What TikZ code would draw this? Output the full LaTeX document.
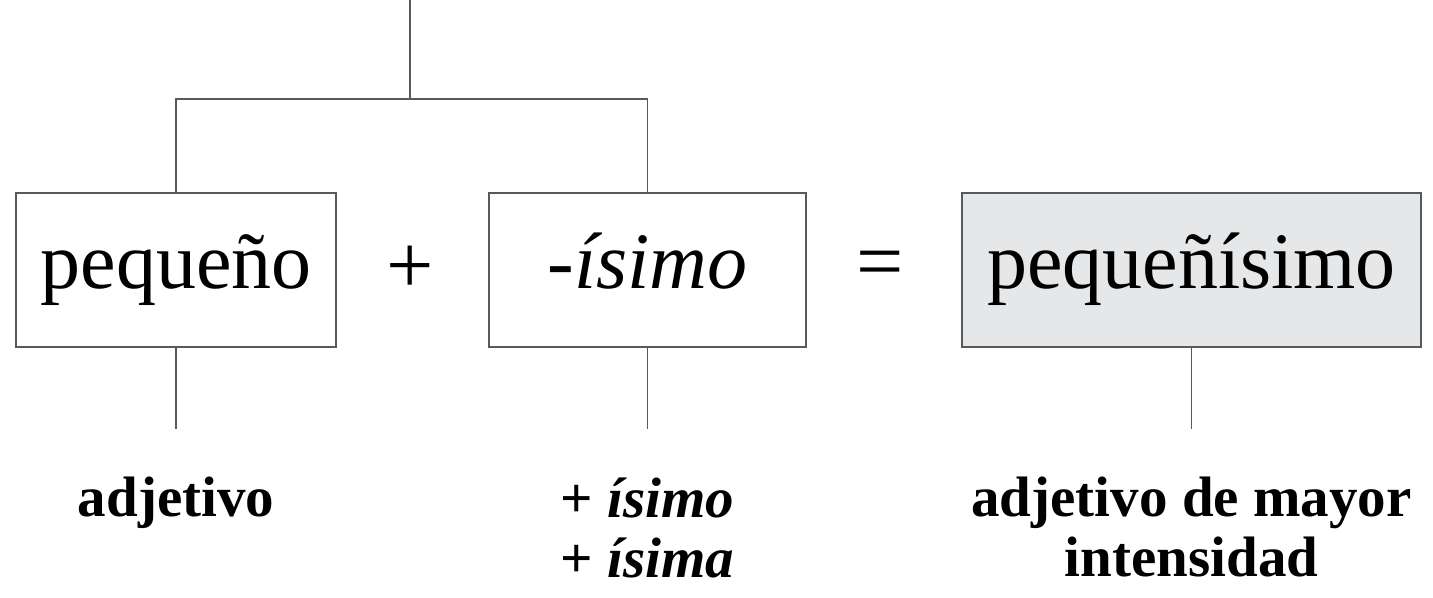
\documentclass[tikz,border=0pt]{standalone}
\usepackage{fontspec}
\setmainfont{Liberation Serif}
\usetikzlibrary{positioning}
\definecolor{boxline}{HTML}{58595B}
\definecolor{boxfill}{HTML}{E6E7E8}

\begin{document}
\begin{tikzpicture}[x = 0.5pt, y = -0.5pt, line width = 0.7pt,
  wordbox/.style = {draw = boxline, inner sep = 0pt, minimum height = 77pt, text height = 28pt, text depth = 9pt, font = \fontsize{40}{48}\selectfont},
  sign/.style = {inner sep = 0pt, font = \fontsize{42}{48}\selectfont},
  gloss/.style = {inner sep = 0pt, font = \fontsize{28.5}{30}\selectfont\bfseries}]
\useasboundingbox (0,0) rectangle (1433,598);
\node[wordbox, minimum width = 160pt] (base) at (176,270) {pequeño};
\node[wordbox, minimum width = 158.5pt] (suffix) at (647.5,270) {\itshape -ísimo};
\node[wordbox, minimum width = 229.5pt, fill = boxfill] (result) at (1191.5,270) {pequeñísimo};
\node[sign] (plus) at (410,270) {+};
\node[sign] (equals) at (880,270) {=};
\coordinate (top) at (410,0);
\coordinate (join) at (410,99);
\draw[boxline] (top) -- (join);
\draw[boxline] (base.north) |- (join) -| (suffix.north);
\coordinate[below = 40.5pt of base.south] (baseEnd);
\coordinate[below = 40.5pt of suffix.south] (suffixEnd);
\coordinate[below = 40.5pt of result.south] (resultEnd);
\draw[boxline] (base.south) -- (baseEnd);
\draw[boxline] (suffix.south) -- (suffixEnd);
\draw[boxline] (result.south) -- (resultEnd);
\node[gloss, below = 24pt of baseEnd] (baseGloss) {adjetivo};
\node[gloss, below = 24pt of suffixEnd, align = left] (suffixGloss) {+ \textit{ísimo}\\+ \textit{ísima}};
\node[gloss, below = 24pt of resultEnd, align = center] (resultGloss) {adjetivo de mayor\\intensidad};
\end{tikzpicture}
\end{document}
